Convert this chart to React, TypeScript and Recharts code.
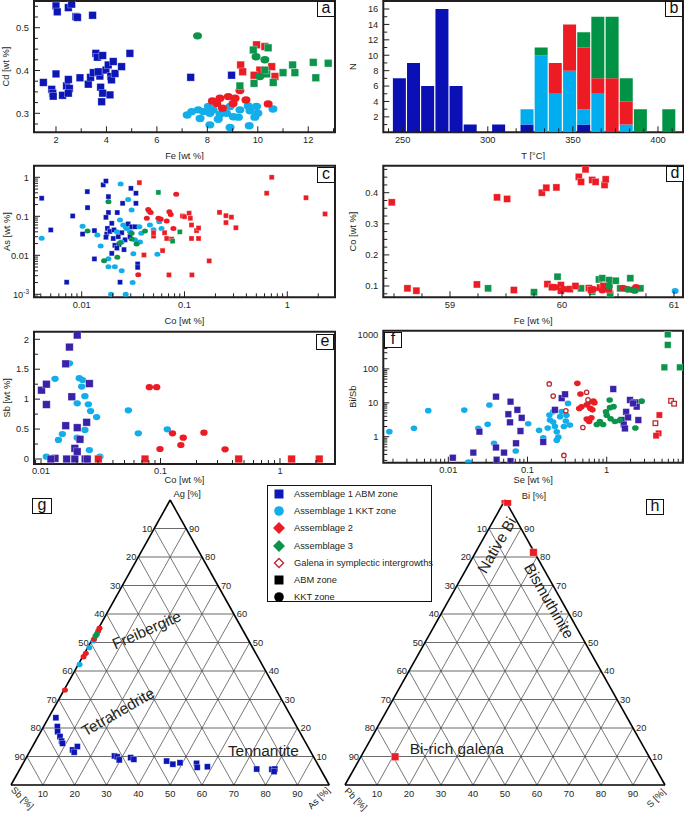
import React from 'react';
import {
  ScatterChart, Scatter, BarChart, Bar, XAxis, YAxis,
  ReferenceArea, ReferenceLine, ReferenceDot,
} from 'recharts';

const FONT = '"Liberation Sans", Arial, Helvetica, sans-serif';
const INK = '#231f20';
const ABM = '#0b16b5';
const ABM_EF = '#3b20a8';
const KKT = '#12aeea';
const AS2 = '#ec1c24';
const AS3 = '#0b944a';
const GAL = '#c02a30';
const TS = 9.3;

type Pt = [number, number];

// ---- panel a: Fe vs Cd
const aFeTicks = [2, 4, 6, 8, 10, 12];
const aCdTicks = [0.3, 0.4, 0.5];
const aAbmSq: Pt[] = [[2.0, 0.551], [2.05, 0.537], [2.49, 0.547], [2.62, 0.555], [2.79, 0.526], [2.85, 0.524], [3.45, 0.529], [1.5, 0.372], [1.83, 0.356], [1.87, 0.347], [1.89, 0.34], [2.0, 0.392], [2.26, 0.342], [2.42, 0.364], [2.49, 0.379], [2.53, 0.358], [2.49, 0.347], [2.95, 0.383], [3.28, 0.368], [3.37, 0.384], [3.48, 0.395], [3.58, 0.44], [3.64, 0.431], [3.85, 0.435], [3.74, 0.387], [3.68, 0.397], [3.77, 0.361], [3.85, 0.347], [3.81, 0.327], [3.98, 0.401], [4.07, 0.413], [4.17, 0.386], [4.27, 0.421], [4.2, 0.378], [4.14, 0.343], [4.34, 0.393], [4.6, 0.409], [4.93, 0.44], [7.34, 0.384], [8.96, 0.389]];
const aKktDot: Pt[] = [[7.2, 0.296], [7.38, 0.304], [7.64, 0.308], [7.84, 0.304], [8.1, 0.3], [8.04, 0.316], [8.23, 0.308], [7.71, 0.288], [8.1, 0.273], [8.43, 0.286], [8.5, 0.298], [8.76, 0.3], [8.9, 0.316], [9.03, 0.292], [9.23, 0.291], [8.9, 0.267], [9.29, 0.308], [9.69, 0.306], [9.95, 0.316], [10.0, 0.3], [9.88, 0.291], [9.66, 0.271], [10.6, 0.31], [9.62, 0.317]];
const aAs2Dot: Pt[] = [[8.2, 0.329], [8.5, 0.335], [8.83, 0.339], [9.1, 0.335], [9.29, 0.353], [9.53, 0.331], [8.6, 0.312], [9.02, 0.323], [10.41, 0.322], [8.37, 0.323]];
const aAs2Sq: Pt[] = [[9.32, 0.413], [9.4, 0.397], [9.95, 0.46], [10.28, 0.456], [10.08, 0.401], [9.85, 0.389], [10.55, 0.409], [10.68, 0.386]];
const aAs3Sq: Pt[] = [[9.29, 0.364], [9.82, 0.448], [10.41, 0.453], [9.85, 0.37], [10.35, 0.392], [10.61, 0.372], [11.0, 0.395], [11.38, 0.413], [11.47, 0.395], [12.2, 0.419], [12.3, 0.383], [12.79, 0.417], [10.28, 0.401]];
const aAs3Dot: Pt[] = [[7.61, 0.481], [9.93, 0.432], [10.28, 0.425], [10.08, 0.386]];

// ---- panel b: temperature histogram
const bTTicks = [250, 300, 350, 400];
const bNTicks = [2, 4, 6, 8, 10, 12, 14, 16];
const bTemp = [247.8, 256.1, 264.4, 272.8, 281.1, 289.4, 297.8, 306.1, 314.4, 322.8, 331.1, 339.4, 347.8, 356.1, 364.4, 372.8, 381.1, 389.4, 397.8, 406.1];
const bAbm = [7, 9, 6, 16, 6, 1, 0, 1, 0, 1, 0, 0, 0, 1, 0, 0, 0, 0, 0, 0];
const bKkt = [0, 0, 0, 0, 0, 0, 0, 0, 0, 2, 10, 5, 8, 2, 5, 0, 1, 0, 0, 0];
const bAs2 = [0, 0, 0, 0, 0, 0, 0, 0, 0, 0, 0, 4, 6, 8, 2, 7, 3, 0, 0, 0];
const bAs3 = [0, 0, 0, 0, 0, 0, 0, 0, 0, 0, 1, 0, 0, 2, 8, 8, 3, 3, 0, 3];

// ---- panel c: Co vs As (log-log)
const logTicks = [0.01, 0.1, 1];
const cAsTicks = [0.001, 0.01, 0.1, 1];
const cAbmSq: Pt[] = [[0.00408, 0.29], [0.005, 0.0447], [0.00714, 0.00204], [0.00817, 0.102], [0.0102, 0.035], [0.01135, 0.43], [0.0114, 0.167], [0.0133, 0.043], [0.0133, 0.0081], [0.0162, 0.64], [0.0172, 0.8], [0.0182, 0.32], [0.0182, 0.125], [0.0172, 0.094], [0.0178, 0.049], [0.0175, 0.035], [0.0172, 0.029], [0.0188, 0.041], [0.0196, 0.066], [0.0196, 0.0112], [0.0203, 0.027], [0.021, 0.018], [0.0222, 0.125], [0.023, 0.019], [0.0236, 0.00204], [0.0245, 0.038], [0.025, 0.215], [0.0258, 0.014], [0.0268, 0.056], [0.0283, 0.064], [0.0295, 0.03], [0.0301, 0.52], [0.0306, 0.054], [0.0337, 0.39], [0.0337, 0.215], [0.033, 0.054], [0.0342, 0.021], [0.035, 0.006], [0.035, 0.0049], [0.0227, 0.03], [0.0206, 0.045], [0.022, 0.0153], [0.0264, 0.025]];
const cKktDot: Pt[] = [[0.00408, 0.0272], [0.0102, 0.056], [0.0142, 0.033], [0.0153, 0.0172], [0.0182, 0.0081], [0.0182, 0.0051], [0.0193, 0.001], [0.021, 0.0051], [0.0239, 0.67], [0.0245, 0.004], [0.0268, 0.001], [0.0283, 0.27], [0.0306, 0.145], [0.0313, 0.002], [0.0318, 0.011], [0.0236, 0.08], [0.0254, 0.06], [0.0273, 0.049], [0.0295, 0.04], [0.033, 0.025], [0.0364, 0.054], [0.0369, 0.022], [0.038, 0.037], [0.0455, 0.132], [0.0461, 0.06], [0.05, 0.045], [0.0545, 0.0106], [0.0568, 0.073], [0.0598, 0.049], [0.022, 0.04], [0.0245, 0.022]];
const cAs3Dot: Pt[] = [[0.0114, 0.042], [0.0182, 0.237], [0.0165, 0.0073], [0.0222, 0.0089], [0.0236, 0.021], [0.0306, 0.037], [0.0306, 0.026], [0.0342, 0.0195], [0.0413, 0.042]];
const cAs3Sq: Pt[] = [[0.0557, 0.41], [0.0766, 0.023], [0.09, 0.04]];
const cAs2Sq: Pt[] = [[0.0364, 0.73], [0.0403, 0.0102], [0.05, 0.031], [0.05, 0.038], [0.0612, 0.0132], [0.064, 0.038], [0.0671, 0.027], [0.0706, 0.00315], [0.0749, 0.026], [0.0956, 0.102], [0.1, 0.098], [0.111, 0.12], [0.114, 0.089], [0.117, 0.06], [0.117, 0.027], [0.118, 0.00315], [0.131, 0.043], [0.137, 0.027], [0.137, 0.05], [0.174, 0.0072], [0.219, 0.126], [0.253, 0.104], [0.253, 0.069], [0.286, 0.095], [0.316, 0.051], [0.63, 0.39], [0.705, 1.0], [1.52, 0.3], [2.33, 0.115]];
const cAs2Dot: Pt[] = [[0.0444, 0.15], [0.0469, 0.125], [0.0557, 0.089], [0.0587, 0.085], [0.0671, 0.076], [0.0712, 0.13], [0.0735, 0.112], [0.078, 0.049], [0.083, 0.366], [0.0355, 0.00315], [0.043, 0.089]];

// ---- panel d: Fe vs Co
const dFeTicks = [59, 60, 61];
const dCoTicks = [0.1, 0.2, 0.3, 0.4];
const dAs2Sq: Pt[] = [[58.48, 0.369], [58.62, 0.0925], [58.7, 0.085], [59.24, 0.105], [59.42, 0.385], [59.51, 0.38], [59.57, 0.087], [59.82, 0.4], [59.86, 0.416], [59.95, 0.417], [59.87, 0.106], [60.15, 0.451], [60.17, 0.435], [60.21, 0.475], [60.27, 0.441], [60.3, 0.435], [60.38, 0.425], [60.39, 0.443], [59.91, 0.096], [59.99, 0.103], [59.99, 0.085], [60.07, 0.09], [60.12, 0.1], [60.24, 0.093], [60.26, 0.087], [60.34, 0.095], [60.37, 0.1], [60.42, 0.089]];
const dAs2Dot: Pt[] = [[59.94, 0.096], [60.02, 0.09], [60.28, 0.09], [60.36, 0.086], [60.41, 0.093], [60.55, 0.093], [60.58, 0.09], [60.63, 0.088], [60.66, 0.096]];
const dAs3Sq: Pt[] = [[59.34, 0.0925], [59.75, 0.08], [59.96, 0.13], [60.17, 0.0925], [60.33, 0.121], [60.36, 0.125], [60.42, 0.119], [60.48, 0.117], [60.52, 0.0925], [60.61, 0.125], [60.7, 0.0925], [60.43, 0.074], [60.27, 0.082]];
const dAs3Dot: Pt[] = [[60.42, 0.1], [60.59, 0.089], [60.65, 0.085]];
const dKktDot: Pt[] = [[61.01, 0.084]];

// ---- panel e: Co vs Sb
const eSbTicks = [0, 0.5, 1, 1.5, 2];
const eAbmSq: Pt[] = [[0.0201, 2.07], [0.0173, 1.87], [0.0161, 1.59], [0.0101, 1.15], [0.0111, 1.25], [0.0111, 0.91], [0.0181, 1.04], [0.0254, 1.26], [0.0161, 0.557], [0.0201, 0.524], [0.0241, 0.613], [0.0212, 0.329], [0.0192, 0.178], [0.0201, 0.123], [0.0131, 0.011], [0.0164, 0], [0.0192, 0], [0.0234, 0], [0.0244, 0], [0.0121, 0]];
const eKktDot: Pt[] = [[0.0111, 0.039], [0.0131, 1.34], [0.014, 0.318], [0.0151, 0.418], [0.0173, 1.6], [0.0201, 0.93], [0.0209, 1.35], [0.0223, 1.32], [0.0219, 1.21], [0.0233, 1.05], [0.0233, 0.485], [0.0249, 0.914], [0.026, 0.8], [0.0254, 0.15], [0.0292, 0.7], [0.0311, 0.039], [0.0538, 0.813], [0.0652, 0.429], [0.114, 0.496], [0.0201, 0.357]];
const eAs2Dot: Pt[] = [[0.0807, 1.2], [0.0929, 1.2], [0.099, 0.167], [0.126, 0.429], [0.155, 0.357], [0.148, 0.234], [0.231, 0.44], [0.347, 0.162]];
const eAs2Sq: Pt[] = [[0.0302, 0], [0.0742, 0], [0.451, 0], [1.25, 0], [2.13, 0]];

// ---- panel f: Se vs Bi/Sb
const fBiSbTicks = [1, 10, 100, 1000];
const fKktDot: Pt[] = [[0.0018, 1.41], [0.00368, 1.77], [0.00558, 5.86], [0.0159, 6.1], [0.0239, 1.77], [0.0314, 2.32], [0.033, 8.6], [0.0378, 0.64], [0.071, 0.38], [0.0179, 0.18], [0.102, 2.4], [0.14, 1.54], [0.158, 0.93], [0.189, 4.37], [0.192, 3.1], [0.211, 2.7], [0.222, 2.0], [0.234, 1.4], [0.245, 0.97], [0.234, 0.79], [0.258, 3.9], [0.27, 5.5], [0.288, 2.0], [0.305, 2.9], [0.31, 4.3], [0.325, 9.6], [0.343, 2.2], [0.211, 5.5], [0.18, 1.8]];
const fAbmSq: Pt[] = [[0.0114, 0.24], [0.0207, 0.34], [0.0247, 1.41], [0.04, 15.2], [0.04, 0.48], [0.0407, 0.21], [0.0505, 0.34], [0.0573, 4.6], [0.0601, 2.65], [0.061, 10.8], [0.061, 0.19], [0.0745, 6.2], [0.0844, 3.6], [0.0815, 1.47], [0.0716, 0.64], [0.158, 0.7], [0.222, 6.2], [0.27, 13.7], [0.298, 17.8], [1.21, 25.5], [1.55, 3.1], [1.64, 2.3], [1.76, 5.4], [1.86, 3.7], [1.97, 12.1], [2.28, 10.3], [2.39, 7.7], [2.51, 3.1], [1.7, 1.75], [2.15, 9.6]];
const fAs2Dot: Pt[] = [[0.426, 37.5], [0.466, 18.2], [0.48, 7.6], [0.559, 8.7], [0.6, 10.6], [0.62, 6.9], [0.66, 6.2], [0.68, 11.3], [0.6, 2.8], [0.559, 3.3], [0.64, 3.6], [0.45, 6.8], [0.7, 10]];
const fAs2Sq: Pt[] = [[4.62, 4.36], [4.52, 1.26], [4.2, 1.07]];
const fGalSq: Pt[] = [[4.12, 2.5], [6.5, 11.4], [7.1, 9.4]];
const fGalDot: Pt[] = [[0.188, 36], [0.211, 15.8], [0.305, 5.8], [0.288, 0.28], [0.558, 20.5], [0.58, 12.2], [0.5, 1.87]];
const fAs3Dot: Pt[] = [[1.09, 12.1], [0.98, 5.4], [1.1, 7.2], [1.22, 7.7], [1.0, 4.3], [1.12, 3.4], [1.27, 2.8], [0.9, 2.3], [0.75, 2.3], [0.82, 2.8], [1.47, 3.1], [2.76, 11.2], [2.3, 1.8]];
const fAs3Sq: Pt[] = [[5.9, 1040], [5.9, 510], [5.35, 111], [8.4, 111]];

// ---- ternaries: [apex %, right-corner %]
const ternLevels = [10, 20, 30, 40, 50, 60, 70, 80, 90];
const gAbmSq: Pt[] = [[23.6, 2.3], [20.5, 4.3], [18.7, 5.3], [17.0, 6.9], [15.4, 8.2], [14.6, 8.9], [12.3, 13.2], [13.5, 14.1], [11.5, 14.1], [10.2, 27.4], [9.9, 28.4], [8.8, 29.6], [9.6, 32.8], [9.0, 34.1], [8.4, 44.7], [7.3, 47.2], [7.8, 49.2], [7.6, 54.5], [6.2, 55.4], [6.4, 58.5], [5.6, 74.4], [5.5, 79.2], [5.6, 80.1], [4.7, 80.3]];
const gKktDot: Pt[] = [[50.6, 0.6], [48.2, 0.5], [42.3, 0.4]];
const gAs2Dot: Pt[] = [[55.0, 0.3], [54.0, 0.4], [51.2, 0.5], [46.2, 0.4], [45.0, 0.3], [33.3, 0.3]];
const gAs3Dot: Pt[] = [[52.9, 0.5], [52.3, 0.4]];
const hAs2Sq: Pt[] = [[100, 0], [99.2, 1.2], [81.6, 18.1], [9.9, 10.7]];

// ---------- helpers
const toXY = (pts: Pt[]) => pts.map(([x, y]) => ({ x, y }));
const tern = (pts: Pt[]) => pts.map(([a, r]) => ({ x: r + a / 2, y: a }));

const linSteps = (d0: number, d1: number, step: number) => {
  const out: number[] = [];
  for (let i = Math.ceil(d0 / step - 1e-9); i * step <= d1 + 1e-9; i++) out.push(+(i * step).toFixed(6));
  return out;
};
const logSteps = (d0: number, d1: number) => {
  const out: number[] = [];
  for (let e = Math.floor(Math.log10(d0)); e <= Math.ceil(Math.log10(d1)); e++) {
    for (let m = 1; m <= 9; m++) {
      const v = +(m * Math.pow(10, e)).toPrecision(6);
      if (v >= d0 && v <= d1) out.push(v);
    }
  }
  return out;
};
const isMajor = (majors: number[], v: number) => majors.some((m) => Math.abs(m - v) <= 1e-6 * Math.max(1e-9, Math.abs(m)) || (m === 0 && Math.abs(v) < 1e-9));

const sq = (fill: string, s = 7.6) => (p: any) => (
  <rect x={p.cx - s / 2} y={p.cy - s / 2} width={s} height={s} fill={fill} stroke="#ffffff" strokeOpacity={0.45} strokeWidth={0.7} />
);
const dot = (fill: string, rx = 4.5, ry = 3.7) => (p: any) => <ellipse cx={p.cx} cy={p.cy} rx={rx} ry={ry} fill={fill} />;
const ring = (stroke: string, r = 2.3) => (p: any) => <circle cx={p.cx} cy={p.cy} r={r} fill="#fff" stroke={stroke} strokeWidth={1.3} />;
const hsq = (stroke: string, s = 5) => (p: any) => (
  <rect x={p.cx - s / 2} y={p.cy - s / 2} width={s} height={s} fill="#fff" stroke={stroke} strokeWidth={1.3} />
);

function XTick(props: any) {
  const { x, y, payload, majors, fmt } = props;
  const major = isMajor(majors, payload.value);
  return (
    <g>
      <line x1={x} x2={x} y1={y} y2={y - (major ? 6 : 4)} stroke={INK} strokeWidth={1} />
      {major && (
        <text x={x} y={y + 7} dy="0.35em" textAnchor="middle" fontSize={TS} fontFamily={FONT} fill={INK}>
          {fmt ? fmt(payload.value) : payload.value}
        </text>
      )}
    </g>
  );
}
function YTick(props: any) {
  const { x, y, payload, majors, fmt } = props;
  const major = isMajor(majors, payload.value);
  return (
    <g>
      <line x1={x} x2={x + (major ? 6 : 4)} y1={y} y2={y} stroke={INK} strokeWidth={1} />
      {major && (
        <text x={x - 5} y={y} dy="0.35em" textAnchor="end" fontSize={TS} fontFamily={FONT} fill={INK}>
          {fmt ? fmt(payload.value) : payload.value}
        </text>
      )}
    </g>
  );
}
function XLab(props: any) {
  const { viewBox, text, gap } = props;
  if (!viewBox) return null;
  return (
    <text x={viewBox.x + viewBox.width / 2} y={viewBox.y + gap} dy="0.35em" textAnchor="middle" fontSize={TS} fontFamily={FONT} fill={INK}>
      {text}
    </text>
  );
}
function YLab(props: any) {
  const { viewBox, text, gap } = props;
  if (!viewBox) return null;
  const x = viewBox.x + gap;
  const y = viewBox.y + viewBox.height / 2;
  return (
    <text x={x} y={y} dy="0.35em" textAnchor="middle" transform={`rotate(-90 ${x} ${y})`} fontSize={TS} fontFamily={FONT} fill={INK}>
      {text}
    </text>
  );
}
function Note(props: any) {
  const { viewBox, text, dx = 0, dy = 0, ang = 0, size = TS, anchor = 'middle' } = props;
  if (!viewBox) return null;
  const x = viewBox.x + (viewBox.width || 0) / 2 + dx;
  const y = viewBox.y + (viewBox.height || 0) / 2 + dy;
  return (
    <text x={x} y={y} dy="0.35em" textAnchor={anchor} fontSize={size} fontFamily={FONT} fill={INK}
      transform={ang ? `rotate(${ang} ${x} ${y})` : undefined}>
      {text}
    </text>
  );
}

type Ax = { domain: [number, number]; log?: boolean; major: number[]; minor: number[]; fmt?: (v: number) => any; label: string; gap: number };

const ticksOf = (ax: Ax) => Array.from(new Set([...ax.major, ...ax.minor])).sort((a, b) => a - b);

const xAxisEl = (ax: Ax, height: number, key = 'x') => (
  <XAxis type="number" dataKey={key} scale={ax.log ? 'log' : 'linear'} domain={ax.domain} allowDataOverflow
    ticks={ticksOf(ax)} interval={0} tickSize={0} tickMargin={0} axisLine={false} tickLine={false} height={height}
    tick={<XTick majors={ax.major} fmt={ax.fmt} />} label={<XLab text={ax.label} gap={ax.gap} />} />
);
const yAxisEl = (ax: Ax, width: number) => (
  <YAxis type="number" dataKey="y" scale={ax.log ? 'log' : 'linear'} domain={ax.domain} allowDataOverflow
    ticks={ticksOf(ax)} interval={0} tickSize={0} tickMargin={0} axisLine={false} tickLine={false} width={width}
    tick={<YTick majors={ax.major} fmt={ax.fmt} />} label={<YLab text={ax.label} gap={ax.gap} />} />
);
const frameEl = (xa: Ax, ya: Ax) => (
  <ReferenceArea x1={xa.domain[0]} x2={xa.domain[1]} y1={ya.domain[0]} y2={ya.domain[1]}
    fill="none" fillOpacity={0} stroke={INK} strokeWidth={2} ifOverflow="visible" />
);

type Series = { data: Pt[]; shape: any };

function ScatterPanel({ box, plot, xa, ya, series }: { box: number[]; plot: number[]; xa: Ax; ya: Ax; series: Series[] }) {
  const [L, T, W, H] = box;
  const [x0, y0, x1, y1] = plot;
  return (
    <div style={{ position: 'absolute', left: L, top: T }}>
      <ScatterChart width={W} height={H} margin={{ top: y0 - T, right: L + W - x1, bottom: 0, left: 0 }}>
        {xAxisEl(xa, T + H - y1)}
        {yAxisEl(ya, x0 - L)}
        {frameEl(xa, ya)}
        {series.map((s, i) => (
          <Scatter key={i} data={toXY(s.data)} shape={s.shape} isAnimationActive={false} />
        ))}
      </ScatterChart>
    </div>
  );
}

function HistPanel({ box, plot }: { box: number[]; plot: number[] }) {
  const [L, T, W, H] = box;
  const [x0, y0, x1, y1] = plot;
  const xa: Ax = { domain: [238.6, 414.7], major: bTTicks, minor: linSteps(240, 410, 50 / 6), label: 'T [°C]', gap: 23 };
  const ya: Ax = { domain: [0, 17.04], major: bNTicks, minor: linSteps(1, 17, 1), label: 'N', gap: 13 };
  const rows = bTemp.map((t, i) => ({ t, abm: bAbm[i], kkt: bKkt[i], as2: bAs2[i], as3: bAs3[i] }));
  return (
    <div style={{ position: 'absolute', left: L, top: T }}>
      <BarChart width={W} height={H} data={rows} margin={{ top: y0 - T, right: L + W - x1, bottom: 0, left: 0 }} barGap={0}>
        {xAxisEl(xa, T + H - y1, 't')}
        {yAxisEl(ya, x0 - L)}
        <Bar dataKey="abm" stackId="s" fill="#0a10b4" barSize={13} isAnimationActive={false} />
        <Bar dataKey="kkt" stackId="s" fill="#00adee" barSize={13} isAnimationActive={false} />
        <Bar dataKey="as2" stackId="s" fill="#ed1c24" barSize={13} isAnimationActive={false} />
        <Bar dataKey="as3" stackId="s" fill="#009345" barSize={13} isAnimationActive={false} />
        {frameEl(xa, ya)}
      </BarChart>
    </div>
  );
}

type TernNote = { x: number; y: number; text: string; dx?: number; dy?: number; ang?: number; size?: number; anchor?: string };

function Ternary({ box, tri, series, notes }: { box: number[]; tri: number[]; series: Series[]; notes: TernNote[] }) {
  const [L, T, W, H] = box;
  const [bx0, by, bx1, ay] = tri;
  const segs: { p: { x: number; y: number }[]; w: number; c: string }[] = [];
  ternLevels.forEach((k) => {
    segs.push({ p: [{ x: k / 2, y: k }, { x: 100 - k / 2, y: k }], w: 0.9, c: '#5a5a5a' });
    segs.push({ p: [{ x: k, y: 0 }, { x: 50 + k / 2, y: 100 - k }], w: 0.7, c: '#3c3c3c' });
    segs.push({ p: [{ x: 100 - k, y: 0 }, { x: (100 - k) / 2, y: 100 - k }], w: 0.7, c: '#3c3c3c' });
  });
  segs.push({ p: [{ x: 0, y: 0 }, { x: 100, y: 0 }], w: 1.6, c: '#000' });
  segs.push({ p: [{ x: 0, y: 0 }, { x: 50, y: 100 }], w: 1.6, c: '#000' });
  segs.push({ p: [{ x: 100, y: 0 }, { x: 50, y: 100 }], w: 1.6, c: '#000' });
  const tickNotes: TernNote[] = [];
  ternLevels.forEach((k) => {
    tickNotes.push({ x: k / 2, y: k, text: String(100 - k), dx: -2, anchor: 'end' });
    tickNotes.push({ x: 100 - k / 2, y: k, text: String(k), dx: 3, anchor: 'start' });
    tickNotes.push({ x: k, y: 0, text: String(k), dy: 8.5 });
  });
  return (
    <div style={{ position: 'absolute', left: L, top: T }}>
      <ScatterChart width={W} height={H} margin={{ top: ay - T, bottom: T + H - by, left: bx0 - L, right: L + W - bx1 }}>
        <XAxis type="number" dataKey="x" domain={[0, 100]} hide allowDataOverflow />
        <YAxis type="number" dataKey="y" domain={[0, 100]} hide allowDataOverflow />
        {segs.map((s, i) => (
          <ReferenceLine key={'s' + i} segment={s.p} stroke={s.c} strokeWidth={s.w} ifOverflow="visible" />
        ))}
        {[...tickNotes, ...notes].map((n, i) => (
          <ReferenceDot key={'n' + i} x={n.x} y={n.y} r={0} fill="none" stroke="none" ifOverflow="visible"
            label={<Note text={n.text} dx={n.dx} dy={n.dy} ang={n.ang} size={n.size} anchor={n.anchor} />} />
        ))}
        {series.map((s, i) => (
          <Scatter key={i} data={tern(s.data)} shape={s.shape} isAnimationActive={false} />
        ))}
      </ScatterChart>
    </div>
  );
}

function Letter({ x, y, w = 18, h = 16, t }: { x: number; y: number; w?: number; h?: number; t: string }) {
  return (
    <div style={{
      position: 'absolute', left: x, top: y, width: w, height: h, border: '1.5px solid #111', background: '#fff',
      boxSizing: 'border-box', display: 'flex', alignItems: 'center', justifyContent: 'center',
      fontFamily: FONT, fontSize: 16, lineHeight: 1, color: '#111',
    }}>
      <span style={{ marginTop: -2 }}>{t}</span>
    </div>
  );
}

const legendItems = [
  { label: 'Assemblage 1 ABM zone', icon: <rect x={1.5} y={1.5} width={9} height={9} fill="#0a1ab8" /> },
  { label: 'Assemblage 1 KKT zone', icon: <circle cx={6} cy={6} r={4.8} fill={KKT} /> },
  { label: 'Assemblage 2', icon: <polygon points="6,0 12,6 6,12 0,6" fill={AS2} /> },
  { label: 'Assemblage 3', icon: <polygon points="6,0 12,6 6,12 0,6" fill={AS3} /> },
  { label: 'Galena in symplectic intergrowths', icon: <polygon points="6,1.5 10.5,6 6,10.5 1.5,6" fill="#fff" stroke={GAL} strokeWidth={1.4} /> },
  { label: 'ABM zone', icon: <rect x={1.5} y={1.5} width={9} height={9} fill="#000" /> },
  { label: 'KKT zone', icon: <circle cx={6} cy={6} r={4.8} fill="#000" /> },
];

function LegendBox() {
  return (
    <div style={{
      position: 'absolute', left: 267, top: 485, width: 165, height: 117, border: '1.5px solid #111',
      background: '#fff', boxSizing: 'border-box', fontFamily: FONT, fontSize: TS, color: INK,
    }}>
      {legendItems.map((it, i) => (
        <div key={i} style={{ position: 'absolute', left: 5, top: 1 + i * 17.2, height: 14, display: 'flex', alignItems: 'center', whiteSpace: 'nowrap' }}>
          <svg width={12} height={12} style={{ marginRight: 9 }}>{it.icon}</svg>
          <span>{it.label}</span>
        </div>
      ))}
    </div>
  );
}

const asFmt = (v: number) => (v === 0.001 ? <tspan>10<tspan dy={-3.5} fontSize={6.5}>-3</tspan></tspan> : String(v));

export default function App() {
  const aX: Ax = { domain: [1.128, 13.06], major: aFeTicks, minor: linSteps(1.2, 13, 1), label: 'Fe [wt %]', gap: 23 };
  const aY: Ax = { domain: [0.2556, 0.5624], major: aCdTicks, minor: linSteps(0.26, 0.56, 0.025), label: 'Cd [wt %]', gap: 6 };
  const cX: Ax = { domain: [0.003436, 2.911], log: true, major: logTicks, minor: logSteps(0.003436, 2.911), label: 'Co [wt %]', gap: 23.5 };
  const cY: Ax = { domain: [0.000838, 1.984], log: true, major: cAsTicks, minor: logSteps(0.000838, 1.984), fmt: asFmt, label: 'As [wt %]', gap: 7 };
  const dX: Ax = { domain: [58.4045, 61.0804], major: dFeTicks, minor: linSteps(58.41, 61.07, 0.25), label: 'Fe [wt %]', gap: 23.5 };
  const dY: Ax = { domain: [0.0637, 0.4868], major: dCoTicks, minor: linSteps(0.065, 0.485, 0.025), label: 'Co [wt %]', gap: 13 };
  const eX: Ax = { domain: [0.008738, 2.886], log: true, major: logTicks, minor: logSteps(0.008738, 2.886), label: 'Co [wt %]', gap: 16 };
  const eY: Ax = { domain: [-0.0835, 2.127], major: eSbTicks, minor: linSteps(-0.08, 2.12, 0.25), label: 'Sb [wt %]', gap: 7 };
  const fX: Ax = { domain: [0.00151, 9.19], log: true, major: logTicks, minor: logSteps(0.00151, 9.19), label: 'Se [wt %]', gap: 17 };
  const fY: Ax = { domain: [0.171, 1339], log: true, major: fBiSbTicks, minor: logSteps(0.171, 1339), label: 'Bi/Sb', gap: 13 };

  return (
    <div style={{ position: 'absolute', left: 0, top: 0, width: 685, height: 814, background: '#fff', overflow: 'hidden' }}>
      <ScatterPanel box={[0, 0, 340, 160]} plot={[34, 1, 335, 132.3]} xa={aX} ya={aY} series={[
        { data: aAbmSq, shape: sq(ABM, 7.6) },
        { data: aKktDot, shape: dot(KKT, 4.5, 3.7) },
        { data: aAs2Dot, shape: dot(AS2, 4.5, 3.7) },
        { data: aAs2Sq, shape: sq(AS2, 7.6) },
        { data: aAs3Sq, shape: sq(AS3, 7.6) },
        { data: aAs3Dot, shape: dot(AS3, 4.5, 3.7) },
      ]} />
      <HistPanel box={[340, 0, 345, 160]} plot={[383.3, 1, 683, 132.3]} />
      <ScatterPanel box={[0, 162, 340, 164]} plot={[34, 165.7, 335, 297.3]} xa={cX} ya={cY} series={[
        { data: cAbmSq, shape: sq(ABM, 5) },
        { data: cKktDot, shape: dot(KKT, 3, 2.5) },
        { data: cAs3Dot, shape: dot(AS3, 3, 2.5) },
        { data: cAs2Dot, shape: dot(AS2, 3, 2.5) },
        { data: cAs2Sq, shape: sq(AS2, 5) },
        { data: cAs3Sq, shape: sq(AS3, 5) },
      ]} />
      <ScatterPanel box={[340, 162, 345, 164]} plot={[383.3, 165.7, 683, 297.3]} xa={dX} ya={dY} series={[
        { data: dAs3Sq, shape: sq(AS3, 7) },
        { data: dAs2Sq, shape: sq(AS2, 7) },
        { data: dAs2Dot, shape: dot(AS2, 3.8, 3.2) },
        { data: dAs3Dot, shape: dot(AS3, 3.8, 3.2) },
        { data: dKktDot, shape: dot(KKT, 3.5, 3) },
      ]} />
      <ScatterPanel box={[0, 328, 340, 157]} plot={[34, 331.7, 335, 464]} xa={eX} ya={eY} series={[
        { data: eKktDot, shape: dot(KKT, 3.7, 3.1) },
        { data: eAbmSq, shape: sq(ABM_EF, 7.6) },
        { data: eAs2Dot, shape: dot(AS2, 3.7, 3.1) },
        { data: eAs2Sq, shape: sq(AS2, 7.6) },
      ]} />
      <ScatterPanel box={[340, 328, 345, 157]} plot={[383.3, 330.7, 683, 462.7]} xa={fX} ya={fY} series={[
        { data: fKktDot, shape: dot(KKT, 3.3, 2.8) },
        { data: fAbmSq, shape: sq(ABM_EF, 6.6) },
        { data: fAs2Dot, shape: dot(AS2, 3.3, 2.8) },
        { data: fGalDot, shape: ring(GAL, 2.2) },
        { data: fAs3Dot, shape: dot(AS3, 3.3, 2.8) },
        { data: fAs2Sq, shape: sq(AS2, 6.2) },
        { data: fGalSq, shape: hsq(GAL, 4.6) },
        { data: fAs3Sq, shape: sq(AS3, 6.6) },
      ]} />

      <Ternary box={[0, 475, 340, 339]} tri={[11, 785, 329.3, 500]} series={[
        { data: gAbmSq, shape: sq(ABM, 6) },
        { data: gKktDot, shape: dot(KKT, 3, 2.7) },
        { data: gAs2Dot, shape: dot(AS2, 3, 2.7) },
        { data: gAs3Dot, shape: dot(AS3, 3, 2.7) },
      ]} notes={[
        { x: 50, y: 100, text: 'Ag [%]', dx: 17, dy: -6 },
        { x: 0, y: 0, text: 'Sb [%]', dx: 11.5, dy: 13, ang: 45 },
        { x: 100, y: 0, text: 'As [%]', dx: -10.5, dy: 13, ang: -45 },
        { x: 42.6, y: 54.4, text: 'Freibergite', ang: -24, size: 15.4 },
        { x: 33.6, y: 25.7, text: 'Tetrahedrite', ang: -30, size: 15.4 },
        { x: 79.3, y: 11.9, text: 'Tennantite', size: 15.4 },
      ]} />
      <Ternary box={[340, 475, 345, 339]} tri={[345, 785, 665, 500]} series={[
        { data: hAs2Sq, shape: sq(AS2, 7.5) },
      ]} notes={[
        { x: 50, y: 100, text: 'Bi [%]', dx: 29, dy: -4 },
        { x: 0, y: 0, text: 'Pb [%]', dx: 11, dy: 14, ang: 45 },
        { x: 100, y: 0, text: 'S [%]', dx: -9, dy: 13, ang: -45 },
        { x: 47.4, y: 84.2, text: 'Native Bi', ang: -60, size: 15.4 },
        { x: 63.8, y: 64.6, text: 'Bismuthinite', ang: 60, size: 15.4 },
        { x: 34.9, y: 12.6, text: 'Bi-rich galena', size: 15.4 },
      ]} />

      <LegendBox />
      <Letter x={317} y={1} t="a" />
      <Letter x={665} y={1} t="b" />
      <Letter x={317} y={167} t="c" />
      <Letter x={666} y={166} t="d" />
      <Letter x={316} y={334} t="e" />
      <Letter x={384} y={332} t="f" />
      <Letter x={32} y={498} w={20} t="g" />
      <Letter x={646} y={499} t="h" />
    </div>
  );
}
